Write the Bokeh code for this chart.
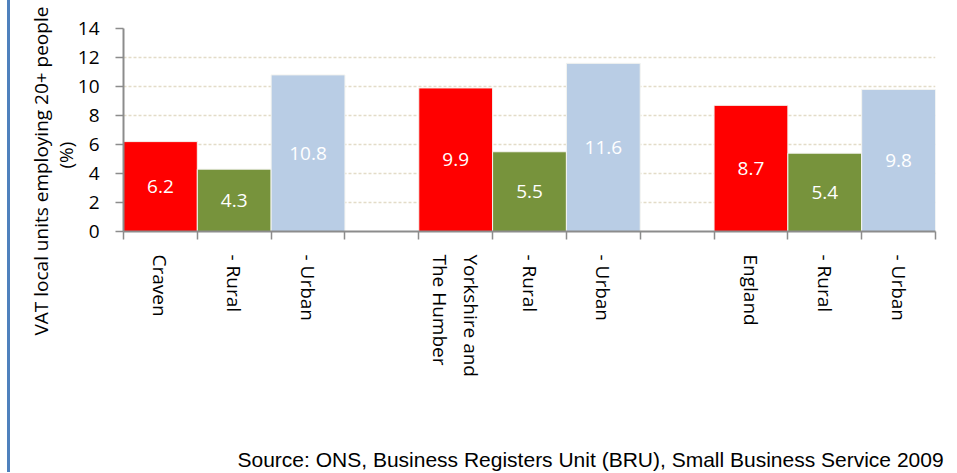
import math
from bokeh.plotting import figure
from bokeh.models import FixedTicker, ColumnDataSource, Div, Range1d, Title
from bokeh.layouts import row
from bokeh.embed import file_html
from bokeh.resources import INLINE

# ---- data ----
groups = ["Craven", "Yorkshire and\nThe Humber", "England"]
sub_labels = ["- Rural", "- Urban"]
area_values = [6.2, 9.9, 8.7]
rural_values = [4.3, 5.5, 5.4]
urban_values = [10.8, 11.6, 9.8]
y_ticks = [0, 2, 4, 6, 8, 10, 12, 14]
y_title_main = "VAT local units employing 20+ people"
y_title_unit = "(%)"
source_note = "Source: ONS, Business Registers Unit (BRU), Small Business Service 2009"

AREA_COLOR = "#FF0000"
RURAL_COLOR = "#77933C"
URBAN_COLOR = "#B9CDE5"
FONT = "Open Sans"

xs, tops, mids, colors, labels, texts = [], [], [], [], [], []
for i, g in enumerate(groups):
    base = i * 4
    vals = [area_values[i], rural_values[i], urban_values[i]]
    cols = [AREA_COLOR, RURAL_COLOR, URBAN_COLOR]
    labs = [g] + sub_labels
    for j in range(3):
        xs.append(base + j + 0.5)
        tops.append(vals[j])
        mids.append(vals[j] / 2)
        colors.append(cols[j])
        labels.append(labs[j])
        texts.append(f"{vals[j]:.1f}")

n_slots = len(groups) * 4 - 1
src = ColumnDataSource(dict(x=xs, top=tops, mid=mids, color=colors, text=texts))

H = 472
TOP = 28
FRAME_H = 204
p = figure(width=937, height=H, x_range=Range1d(0, n_slots), y_range=Range1d(0, 14),
           output_backend="svg", toolbar_location=None, title=None,
           min_border_left=113, min_border_right=12, min_border_top=TOP,
           min_border_bottom=H - TOP - FRAME_H)
p.outline_line_color = None
p.background_fill_color = "white"
p.border_fill_color = "white"

p.vbar(x="x", top="top", bottom=0, width=1.0, fill_color="color", line_color="#F4F4F0",
       line_width=1, source=src)
p.text(x="x", y="mid", text="text", source=src, text_color="white",
       text_align="center", text_baseline="middle",
       text_font={"value": FONT}, text_font_size={"value": "19px"})

# grid
p.xgrid.visible = False
p.ygrid.grid_line_color = "#E3DCC8"
p.ygrid.grid_line_dash = "3 2"
p.ygrid.grid_line_width = 1.5

# y axis
yax = p.yaxis[0]
yax.ticker = FixedTicker(ticks=y_ticks)
yax.major_tick_in = 0
yax.major_tick_out = 8
yax.minor_tick_line_color = None
yax.axis_line_color = "#8C8C8C"
yax.axis_line_width = 2
yax.major_tick_line_color = "#8C8C8C"
yax.major_tick_line_width = 1.5
yax.major_label_text_font = FONT
yax.major_label_text_font_size = "19px"
yax.major_label_text_color = "black"
yax.major_label_standoff = 16

# x axis
xax = p.xaxis[0]
xax.ticker = FixedTicker(ticks=xs, minor_ticks=list(range(n_slots + 1)))
xax.major_label_overrides = {x: lab for x, lab in zip(xs, labels)}
xax.major_tick_line_color = None
xax.major_tick_in = 0
xax.major_tick_out = 8
xax.minor_tick_in = 0
xax.minor_tick_out = 8
xax.minor_tick_line_color = "#8C8C8C"
xax.minor_tick_line_width = 1.5
xax.axis_line_color = "#8C8C8C"
xax.axis_line_width = 2
xax.major_label_orientation = -math.pi / 2
xax.major_label_standoff = 15
xax.major_label_text_font = FONT
xax.major_label_text_font_size = "19px"
xax.major_label_text_color = "black"

# y-axis title, two lines placed as side titles
p.add_layout(Title(text=y_title_unit, align="left", offset=63, vertical_align="bottom",
                   standoff=-8, text_font=FONT, text_font_size="19px",
                   text_font_style="normal", text_color="black"), "left")
p.add_layout(Title(text=y_title_main, align="left", offset=-104, vertical_align="bottom",
                   standoff=2, text_font=FONT, text_font_size="19px",
                   text_font_style="normal", text_color="black"), "left")

# source note below (spacer keeps it near the bottom edge)
p.add_layout(Title(text=" ", standoff=42, text_font_size="21px"), "below")
p.add_layout(Title(text=source_note, align="left", offset=114, vertical_align="top",
                   standoff=0, text_font="Liberation Sans", text_font_size="21px",
                   text_font_style="normal", text_color="black"), "below")

edge = Div(text="", width=3, height=H, margin=(0, 0, 0, 7),
           styles={"background-color": "#4F81BD"})
layout = row(edge, p, spacing=0)

open("out.html", "w").write(file_html(layout, INLINE))
